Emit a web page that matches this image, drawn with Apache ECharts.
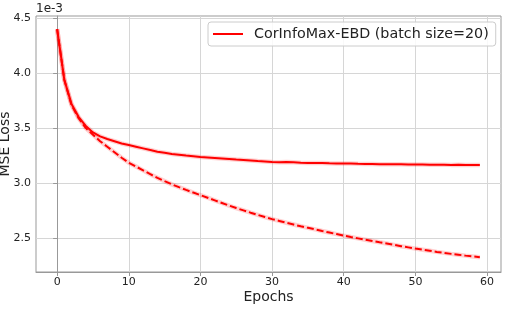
<!DOCTYPE html>
<html>
<head>
<meta charset="utf-8">
<script src="https://cdn.jsdelivr.net/npm/echarts@6/dist/echarts.min.js"></script>
<style>
html,body{margin:0;padding:0;background:#fff;}
#chart{width:514px;height:309px;}
</style>
</head>
<body>
<div id="chart"></div>
<script>
// Values in units of 1e-3
const epochs = Array.from({length: 60}, (_, i) => i);
const solidLoss = [4.40,3.94,3.72,3.60,3.52,3.46,3.425,3.40,3.38,3.36,
  3.345,3.33,3.315,3.30,3.285,3.275,3.265,3.258,3.25,3.243,
  3.236,3.232,3.228,3.223,3.218,3.213,3.209,3.205,3.200,3.196,
  3.192,3.190,3.191,3.188,3.185,3.183,3.183,3.181,3.179,3.178,
  3.177,3.177,3.175,3.174,3.173,3.171,3.171,3.170,3.170,3.169,
  3.168,3.168,3.167,3.166,3.167,3.165,3.166,3.165,3.165,3.165];
const dashedLoss = [4.40,3.94,3.71,3.59,3.50,3.44,3.38,3.33,3.28,3.23,
  3.185,3.15,3.115,3.08,3.047,3.017,2.988,2.962,2.937,2.913,
  2.890,2.866,2.842,2.818,2.794,2.772,2.751,2.730,2.710,2.690,
  2.671,2.655,2.638,2.622,2.606,2.592,2.578,2.563,2.549,2.535,
  2.521,2.508,2.496,2.484,2.472,2.460,2.449,2.437,2.425,2.414,
  2.403,2.393,2.383,2.373,2.364,2.355,2.347,2.339,2.332,2.325];
const xTicks = [0,10,20,30,40,50,60];
const yTicks = [2.5,3.0,3.5,4.0,4.5];
const seriesName = 'CorInfoMax-EBD (batch size=20)';
const scaleText = '1e-3';
const xLabel = 'Epochs';
const yLabel = 'MSE Loss';

const pair = arr => epochs.map((e, i) => [e, arr[i]]);
const font = 'DejaVu Sans';
const chart = echarts.init(document.getElementById('chart'), null, {renderer: 'canvas'});
chart.setOption({
  animation: false,
  backgroundColor: '#fff',
  textStyle: {fontFamily: font},
  grid: {left: 36, right: 13, top: 16, bottom: 37, containLabel: false,
    outerBoundsMode: 'none',
    show: true, borderColor: '#999', borderWidth: 1},
  legend: {
    data: [{name: seriesName, icon: 'rect'}],
    left: 208, top: 22, itemWidth: 30, itemHeight: 2,
    padding: [5, 7, 5, 5],
    borderColor: '#ccc', borderWidth: 1, borderRadius: 3,
    backgroundColor: 'rgba(255,255,255,0.85)',
    textStyle: {fontFamily: font, fontSize: 14.3, color: '#222', padding: [0,0,0,6]}
  },
  graphic: [{type: 'text', left: 36, top: 3,
    style: {text: scaleText, font: '12px "DejaVu Sans"', fill: '#222'}}],
  xAxis: {
    type: 'value', min: -2.95, max: 61.95,
    name: xLabel, nameLocation: 'middle', nameGap: 18, nameMoveOverlap: false,
    nameTextStyle: {fontSize: 14, color: '#222', fontFamily: font},
    axisLine: {show: true, lineStyle: {color: '#999'}},
    axisTick: {show: true, inside: false, length: 4, customValues: xTicks, lineStyle: {color: '#999'}},
    axisLabel: {customValues: xTicks, fontSize: 11, color: '#222', margin: 5, fontFamily: font},
    splitLine: {show: true, lineStyle: {color: '#d6d6d6', width: 1}}
  },
  yAxis: {
    type: 'value', min: 2.19, max: 4.52,
    name: yLabel, nameLocation: 'middle', nameGap: 24, nameRotate: 90, nameMoveOverlap: false,
    nameTextStyle: {fontSize: 14, color: '#222', fontFamily: font},
    axisLine: {show: true, lineStyle: {color: '#999'}},
    axisTick: {show: true, inside: false, length: 4, customValues: yTicks, lineStyle: {color: '#999'}},
    axisLabel: {customValues: yTicks, fontSize: 11, color: '#222', margin: 5, fontFamily: font,
      formatter: v => v.toFixed(1)},
    splitLine: {show: true, lineStyle: {color: '#d6d6d6', width: 1}}
  },
  series: [
    {type: 'line', data: pair(dashedLoss), showSymbol: false, silent: true,
      lineStyle: {color: 'rgba(255,0,0,0.18)', width: 4.5}, z: 1},
    {type: 'line', data: pair(solidLoss), showSymbol: false, silent: true,
      lineStyle: {color: 'rgba(255,0,0,0.18)', width: 4.5}, z: 1},
    {type: 'line', data: pair(dashedLoss), showSymbol: false,
      lineStyle: {color: '#ff0000', width: 2, type: [7, 3]}, z: 3},
    {type: 'line', name: seriesName, data: pair(solidLoss), showSymbol: false,
      itemStyle: {color: '#ff0000'},
      lineStyle: {color: '#ff0000', width: 2}, z: 3}
  ]
});
</script>
</body>
</html>
